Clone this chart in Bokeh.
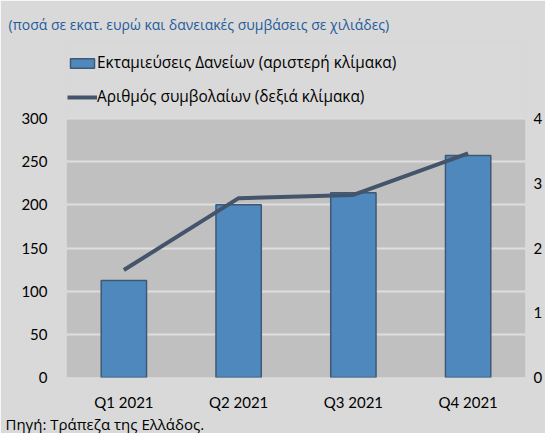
from bokeh.plotting import figure
from bokeh.models import (Range1d, LinearAxis, FixedTicker, Legend, LegendItem,
                          Title, FactorRange, BoxAnnotation)
from bokeh.embed import file_html
from bokeh.resources import INLINE

# ---- data ----
quarters = ["Q1 2021", "Q2 2021", "Q3 2021", "Q4 2021"]
disbursements = [112.5, 200, 214, 257]        # left scale, EUR million
contracts = [1.66, 2.77, 2.82, 3.46]           # right scale, thousands
left_ticks = [0, 50, 100, 150, 200, 250, 300]
right_ticks = [0, 1, 2, 3, 4]
left_max = 300
right_max = 4

title_text = "(ποσά σε εκατ. ευρώ και δανειακές συμβάσεις σε χιλιάδες)"
bar_label = "Εκταμιεύσεις Δανείων (αριστερή κλίμακα)"
line_label = "Αριθμός συμβολαίων (δεξιά κλίμακα)"
source_text = "Πηγή: Τράπεζα της Ελλάδος."

GREEK_FONT = "Open Sans"
NUM_FONT = "Lato"
BG = "#d9d9d9"
PLOT_BG = "#c0c0c0"
BAR = "#4f88bd"
BAR_EDGE = "#3f5875"
LINE = "#44546a"

# layout (pixels): plot area from y=118 (top value) to y=377 (zero); frame starts at TOP
W, H = 545, 433
TOP = 40
AREA_TOP, AREA_BOTTOM = 118, 377
scale_ext = (AREA_BOTTOM - TOP) / (AREA_BOTTOM - AREA_TOP)

p = figure(width=W, height=H, x_range=FactorRange(*quarters, range_padding=0),
           y_range=Range1d(0, left_max * scale_ext), output_backend="svg",
           toolbar_location=None,
           min_border_left=66, min_border_right=20, min_border_top=TOP,
           min_border_bottom=H - AREA_BOTTOM)
p.background_fill_color = PLOT_BG
p.border_fill_color = BG
p.outline_line_color = None
p.extra_y_ranges = {"right": Range1d(0, right_max * scale_ext)}

# area above the plot's top value belongs to the page background
p.add_layout(BoxAnnotation(bottom=left_max, fill_color=BG, fill_alpha=1,
                           line_color=None, level="underlay"))

bars = p.vbar(x=quarters, top=disbursements, width=0.395, fill_color=BAR,
              line_color=BAR_EDGE, line_width=1.5)
line = p.line(x=quarters, y=contracts, y_range_name="right", line_color=LINE,
              line_width=4)

# axes
p.yaxis[0].ticker = FixedTicker(ticks=left_ticks)
p.xaxis.major_label_standoff = 15
p.yaxis.major_label_standoff = 19
right = LinearAxis(y_range_name="right", ticker=FixedTicker(ticks=right_ticks))
right.major_label_standoff = 8
p.add_layout(right, "right")
for ax in p.xaxis + p.yaxis + [right]:
    ax.axis_line_color = None
    ax.major_tick_line_color = None
    ax.minor_tick_line_color = None
    ax.major_tick_out = 0
    ax.major_tick_in = 0
    ax.major_label_text_font = NUM_FONT
    ax.major_label_text_font_size = "15px"
    ax.major_label_text_color = "#000000"

p.xgrid.grid_line_color = None
p.ygrid.grid_line_color = "#dedede"
p.ygrid.grid_line_width = 2

legend = Legend(items=[LegendItem(label=bar_label, renderers=[bars]),
                       LegendItem(label=line_label, renderers=[line])],
                location=(1, 270), orientation="vertical",
                background_fill_alpha=0, border_line_color=None, padding=0, margin=0,
                glyph_width=30, glyph_height=12, label_height=12, spacing=13,
                label_standoff=0, label_text_font=GREEK_FONT, label_text_font_size="15.4px",
                label_text_color="#000000", label_text_baseline="alphabetic")
p.add_layout(legend, "center")

p.title.text = title_text
p.title.align = "left"
p.title.offset = -58
p.title.standoff = 13
p.title.text_font = GREEK_FONT
p.title.text_font_size = "14px"
p.title.text_font_style = "normal"
p.title.text_color = "#1f5c9c"

src = Title(text=source_text, align="left", offset=-61, standoff=0,
            text_font=GREEK_FONT, text_font_size="15px", text_font_style="normal",
            text_color="#000000")
try:
    src.standoff = -3
except Exception:
    src.standoff = 0
p.add_layout(src, "below")

open("out.html", "w").write(file_html(p, INLINE))
